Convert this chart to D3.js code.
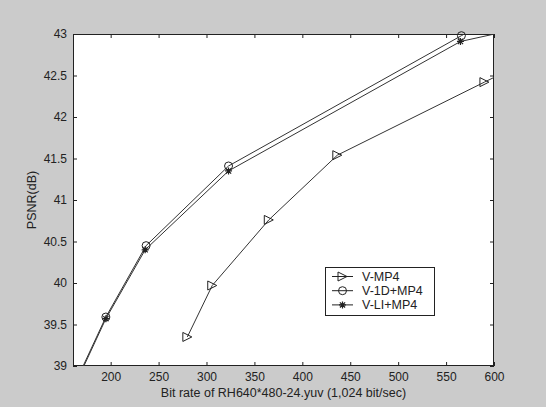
<!DOCTYPE html>
<html><head><meta charset="utf-8">
<script src="https://cdn.jsdelivr.net/npm/d3@7"></script>
<style>html,body{margin:0;padding:0;background:#cbcbcb;}svg{display:block;}</style>
</head><body><svg id="c" width="546" height="407"></svg>
<script>
// ---- data ----
const xTicks = [200, 250, 300, 350, 400, 450, 500, 550, 600];
const yTicks = [39, 39.5, 40, 40.5, 41, 41.5, 42, 42.5, 43];
const xDomain = [160.7, 600];
const yDomain = [39, 43];
const seriesNames = ["V-MP4", "V-1D+MP4", "V-LI+MP4"];
const seriesMarkers = ["triangle", "circle", "star"];
const vmp4X = [280, 306, 365, 436.5, 590, 650];
const vmp4Y = [39.35, 39.97, 40.76, 41.54, 42.42, 42.76];
const v1dX = [160, 195, 237, 323, 566, 640];
const v1dY = [38.72, 39.59, 40.45, 41.41, 42.98, 43.46];
const vliX = [160, 195, 236, 323, 565, 640];
const vliY = [38.70, 39.57, 40.40, 41.35, 42.91, 43.10];
const xLabel = "Bit rate of RH640*480-24.yuv (1,024 bit/sec)";
const yLabel = "PSNR(dB)";

// ---- layout ----
const L = 73, T = 34, R = 494, B = 366;
const svg = d3.select("#c");
const font = "'Liberation Sans', Arial, sans-serif";
svg.append("rect").attr("width", 546).attr("height", 407).attr("fill", "#cbcbcb");
svg.append("rect").attr("x", L).attr("y", T).attr("width", R - L).attr("height", B - T).attr("fill", "#ffffff");

const x = d3.scaleLinear().domain(xDomain).range([L, R]);
const y = d3.scaleLinear().domain(yDomain).range([B, T]);

svg.append("defs").append("clipPath").attr("id", "clip")
  .append("rect").attr("x", L).attr("y", T).attr("width", R - L).attr("height", B - T);

const tickFmt = d => String(d);
const axStyle = g => {
  g.select(".domain").remove();
  g.selectAll(".tick line").attr("stroke", "#222").attr("stroke-width", 1);
  g.selectAll(".tick text").attr("fill", "#222").style("font-family", font).style("font-size", "12px");
};
svg.append("g").attr("transform", `translate(0,${B})`)
  .call(d3.axisBottom(x).tickValues(xTicks).tickFormat(tickFmt).tickSizeInner(-4).tickSizeOuter(0).tickPadding(6))
  .call(axStyle);
svg.append("g").attr("transform", `translate(0,${T})`)
  .call(d3.axisTop(x).tickValues(xTicks).tickFormat("").tickSizeInner(-4).tickSizeOuter(0))
  .call(axStyle);
svg.append("g").attr("transform", `translate(${L},0)`)
  .call(d3.axisLeft(y).tickValues(yTicks).tickFormat(tickFmt).tickSizeInner(-4).tickSizeOuter(0).tickPadding(6))
  .call(axStyle);
svg.append("g").attr("transform", `translate(${R},0)`)
  .call(d3.axisRight(y).tickValues(yTicks).tickFormat("").tickSizeInner(-4).tickSizeOuter(0))
  .call(axStyle);

svg.append("rect").attr("x", L + 0.5).attr("y", T + 0.5).attr("width", R - L - 1).attr("height", B - T - 1)
  .attr("fill", "none").attr("stroke", "#222").attr("stroke-width", 1);

// ---- series ----
const series = [
  {name: seriesNames[0], marker: seriesMarkers[0], xs: vmp4X, ys: vmp4Y},
  {name: seriesNames[1], marker: seriesMarkers[1], xs: v1dX, ys: v1dY},
  {name: seriesNames[2], marker: seriesMarkers[2], xs: vliX, ys: vliY}
];
const line = d3.line().x(d => x(d[0])).y(d => y(d[1]));

function drawMarker(g, type, cx, cy) {
  const c = "#222";
  if (type === "circle") {
    g.append("circle").attr("cx", cx).attr("cy", cy).attr("r", 4)
      .attr("fill", "none").attr("stroke", c).attr("stroke-width", 1);
  } else if (type === "triangle") {
    const s = 4.5;
    g.append("path").attr("d", `M${cx - s},${cy - s}L${cx + s},${cy}L${cx - s},${cy + s}Z`)
      .attr("fill", "none").attr("stroke", c).attr("stroke-width", 1);
  } else {
    const s = 3.5, d = 2.6;
    g.append("path").attr("d",
      `M${cx - s},${cy}L${cx + s},${cy}M${cx},${cy - s}L${cx},${cy + s}` +
      `M${cx - d},${cy - d}L${cx + d},${cy + d}M${cx - d},${cy + d}L${cx + d},${cy - d}`)
      .attr("fill", "none").attr("stroke", c).attr("stroke-width", 1.2);
  }
}

series.forEach(s => {
  const pts = s.xs.map((v, i) => [v, s.ys[i]]);
  svg.append("path").attr("clip-path", "url(#clip)").attr("d", line(pts))
    .attr("fill", "none").attr("stroke", "#333").attr("stroke-width", 1);
  const mg = svg.append("g");
  pts.filter(p => p[0] >= xDomain[0] && p[0] <= xDomain[1] && p[1] >= yDomain[0] && p[1] <= yDomain[1])
    .forEach(p => drawMarker(mg, s.marker, x(p[0]), y(p[1])));
});

// ---- legend ----
const lg = svg.append("g");
const lx = 325, ly = 267, lw = 109, lh = 48;
lg.append("rect").attr("x", lx + 0.5).attr("y", ly + 0.5).attr("width", lw).attr("height", lh)
  .attr("fill", "#fff").attr("stroke", "#222").attr("stroke-width", 1);
series.forEach((s, i) => {
  const cy = ly + 9.5 + i * 14.2;
  lg.append("line").attr("x1", lx + 7).attr("x2", lx + 28).attr("y1", cy).attr("y2", cy)
    .attr("stroke", "#222").attr("stroke-width", 1);
  drawMarker(lg, s.marker, lx + 17.5, cy);
  lg.append("text").attr("x", lx + 37).attr("y", cy + 4.3).text(s.name)
    .attr("fill", "#222").style("font-family", font).style("font-size", "12.5px");
});

// ---- axis labels ----
svg.append("text").attr("x", (L + R) / 2).attr("y", 397).attr("text-anchor", "middle")
  .attr("fill", "#222").style("font-family", font).style("font-size", "12.5px").text(xLabel);
svg.append("text").attr("transform", `translate(36,${(T + B) / 2}) rotate(-90)`).attr("text-anchor", "middle")
  .attr("fill", "#222").style("font-family", font).style("font-size", "12.5px").text(yLabel);
</script></body></html>
